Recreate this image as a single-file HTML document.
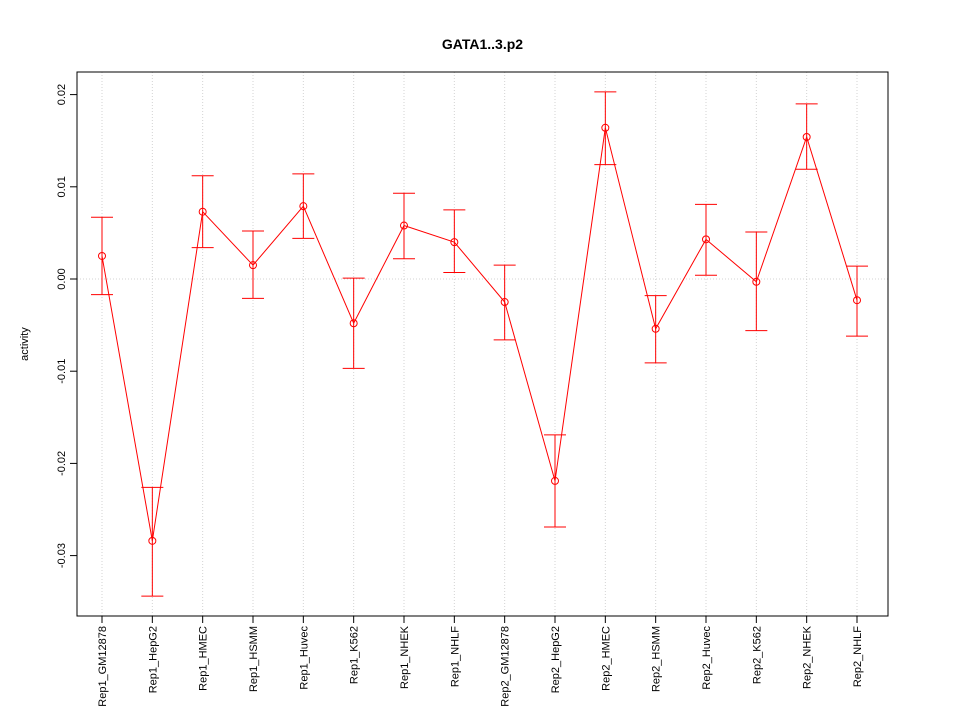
<!DOCTYPE html>
<html><head><meta charset="utf-8"><style>
html,body{margin:0;padding:0;background:#fff;}
svg{display:block;font-family:"Liberation Sans",sans-serif;}
</style></head><body>
<svg id="chart" width="960" height="720"></svg>
<script>
const categories=["Rep1_GM12878","Rep1_HepG2","Rep1_HMEC","Rep1_HSMM","Rep1_Huvec","Rep1_K562","Rep1_NHEK","Rep1_NHLF","Rep2_GM12878","Rep2_HepG2","Rep2_HMEC","Rep2_HSMM","Rep2_Huvec","Rep2_K562","Rep2_NHEK","Rep2_NHLF"];
const values=[0.0025,-0.0284,0.0073,0.0015,0.0079,-0.0048,0.0058,0.0040,-0.0025,-0.0219,0.0164,-0.0054,0.0043,-0.0003,0.0154,-0.0023];
const upper=[0.0067,-0.0226,0.0112,0.0052,0.0114,0.0001,0.0093,0.0075,0.0015,-0.0169,0.0203,-0.0018,0.0081,0.0051,0.0190,0.0014];
const lower=[-0.0017,-0.0344,0.0034,-0.0021,0.0044,-0.0097,0.0022,0.0007,-0.0066,-0.0269,0.0124,-0.0091,0.0004,-0.0056,0.0119,-0.0062];
const yTicks=[0.02,0.01,0.00,-0.01,-0.02,-0.03];
const yTickLabels=["0.02","0.01","0.00","-0.01","-0.02","-0.03"];

const NS="http://www.w3.org/2000/svg";
const svg=document.getElementById('chart');
const L=77,R=888,T=72,B=616;
function x(i){return 102+i*(857-102)/(categories.length-1);}
function y(v){return 279-v*9220;}
function mk(tag,attrs,parent){const e=document.createElementNS(NS,tag);for(const k in attrs)e.setAttribute(k,attrs[k]);(parent||svg).appendChild(e);return e;}

// grid
categories.forEach((c,i)=>{
  const g=mk('line',{x1:x(i),x2:x(i),y1:T,y2:B,stroke:'#d3d3d3','stroke-dasharray':'1,2'});
  
  
});
const hz=mk('line',{x1:L,x2:R,y1:y(0),y2:y(0),stroke:'#d3d3d3','stroke-dasharray':'1,2'});



// frame
const fr=mk('rect',{x:L,y:T,width:R-L,height:B-T,fill:'none',stroke:'#000'});



// y axis
yTicks.forEach((v,i)=>{
  mk('line',{x1:L-7,x2:L,y1:y(v),y2:y(v),stroke:'#000'});
  const t=mk('text',{x:0,y:0,'font-size':11,'text-anchor':'middle',transform:`translate(${L-12},${y(v)}) rotate(-90)`});
  t.textContent=yTickLabels[i];
  
  
});
const yt=mk('text',{x:0,y:0,'font-size':11,'text-anchor':'middle',transform:`translate(28,${(T+B)/2}) rotate(-90)`});
yt.textContent='activity';



// x axis
categories.forEach((c,i)=>{
  mk('line',{x1:x(i),x2:x(i),y1:B,y2:B+7,stroke:'#000'});
  const t=mk('text',{x:0,y:0,'font-size':11,'text-anchor':'end',transform:`translate(${x(i)+4},${B+10}) rotate(-90)`});
  t.textContent=c;
  
  
});

// title
const ti=mk('text',{x:(L+R)/2,y:49,'font-size':14,'font-weight':'bold','text-anchor':'middle'});
ti.textContent='GATA1..3.p2';



// line
const pts=values.map((v,i)=>x(i)+','+y(v)).join(' ');
const pl=mk('polyline',{points:pts,fill:'none',stroke:'#ff0000','stroke-width':1});



// error bars and points
values.forEach((v,i)=>{
  const g=mk('g',{stroke:'#ff0000',fill:'none'});
  
  
  mk('line',{x1:x(i),x2:x(i),y1:y(upper[i]),y2:y(lower[i])},g);
  mk('line',{x1:x(i)-11,x2:x(i)+11,y1:y(upper[i]),y2:y(upper[i])},g);
  mk('line',{x1:x(i)-11,x2:x(i)+11,y1:y(lower[i]),y2:y(lower[i])},g);
  const c=mk('circle',{cx:x(i),cy:y(v),r:3.5,fill:'none',stroke:'#ff0000'});
  
  
});
</script>
</body></html>
